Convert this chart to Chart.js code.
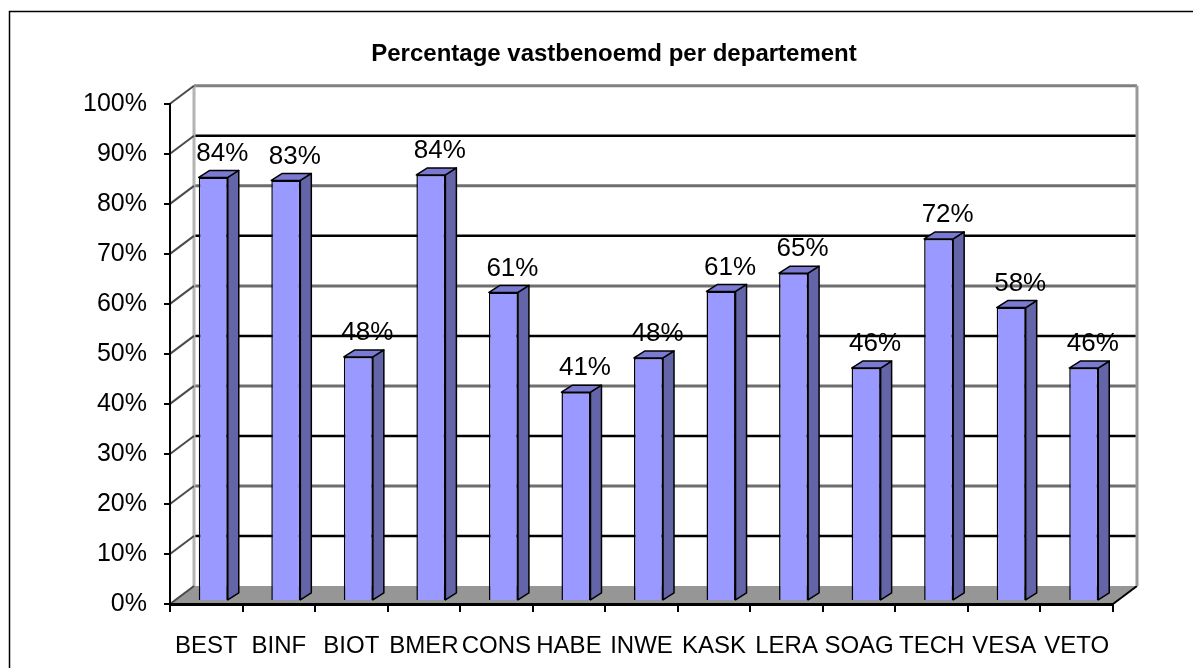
<!DOCTYPE html>
<html><head><meta charset="utf-8">
<script src="https://cdn.jsdelivr.net/npm/chart.js@4"></script>
<style>html,body{margin:0;padding:0;background:#fff;overflow:hidden}</style>
</head><body>
<canvas id="c" width="1193" height="668"></canvas>
<script>
const categories = ['BEST','BINF','BIOT','BMER','CONS','HABE','INWE','KASK','LERA','SOAG','TECH','VESA','VETO'];
const values = [83.8, 83.2, 48.2, 84.3, 61.0, 41.2, 48.0, 61.2, 64.8, 46.0, 71.6, 58.0, 46.0];
const yTickValues = [0,10,20,30,40,50,60,70,80,90,100];
const titleText = 'Percentage vastbenoemd per departement';

const FONT = "'Liberation Sans', Arial, sans-serif";
Chart.defaults.font.family = FONT;
Chart.defaults.color = '#000';

const WALL = {dx: 24, dy: -18};
const BAR_SHIFT = 7;
const BAR_DEPTH = {dx: 11, dy: -7};

const wallPlugin = {
  id: 'wall3d',
  beforeDraw(chart) {
    const ctx = chart.ctx, a = chart.chartArea, y = chart.scales.y;
    ctx.save();
    ctx.strokeStyle = '#000'; ctx.lineWidth = 1.5;
    ctx.strokeRect(9.5, 11.5, 1300, 800);
    const y0 = y.getPixelForValue(0);
    ctx.fillStyle = '#969696';
    ctx.beginPath();
    ctx.moveTo(a.left, y0); ctx.lineTo(a.right, y0);
    ctx.lineTo(a.right + WALL.dx, y0 + WALL.dy); ctx.lineTo(a.left + WALL.dx, y0 + WALL.dy);
    ctx.closePath(); ctx.fill();
    ctx.strokeStyle = '#000'; ctx.lineWidth = 2;
    ctx.beginPath(); ctx.moveTo(a.right, y0); ctx.lineTo(a.right + WALL.dx, y0 + WALL.dy); ctx.stroke();
    yTickValues.forEach(v => {
      if (v === 0) return;
      const py = y.getPixelForValue(v) + WALL.dy;
      ctx.beginPath();
      if (v === 100) { ctx.strokeStyle = '#808080'; ctx.lineWidth = 3; }
      else if (v % 20 === 0) { ctx.strokeStyle = '#6e6e6e'; ctx.lineWidth = 3; }
      else { ctx.strokeStyle = '#000'; ctx.lineWidth = 2.5; }
      ctx.moveTo(a.left + WALL.dx, py); ctx.lineTo(a.right + WALL.dx, py); ctx.stroke();
    });
    ctx.strokeStyle = '#b4b4b4'; ctx.lineWidth = 3;
    ctx.beginPath();
    ctx.moveTo(a.left + WALL.dx, y.getPixelForValue(100) + WALL.dy);
    ctx.lineTo(a.left + WALL.dx, y0 + WALL.dy); ctx.stroke();
    ctx.strokeStyle = '#9a9a9a';
    ctx.beginPath();
    ctx.moveTo(a.right + WALL.dx, y.getPixelForValue(100) + WALL.dy);
    ctx.lineTo(a.right + WALL.dx, y0 + WALL.dy); ctx.stroke();
    ctx.strokeStyle = '#4a4a4a'; ctx.lineWidth = 2;
    yTickValues.forEach(v => {
      const py = y.getPixelForValue(v);
      ctx.beginPath(); ctx.moveTo(a.left, py); ctx.lineTo(a.left + WALL.dx, py + WALL.dy); ctx.stroke();
    });
    ctx.restore();
  },
  beforeDatasetsDraw(chart) {
    chart.ctx.save();
    chart.ctx.translate(BAR_SHIFT, 0);
  },
  afterDatasetsDraw(chart) {
    const ctx = chart.ctx;
    const meta = chart.getDatasetMeta(0);
    ctx.lineJoin = 'round';
    meta.data.forEach((bar, i) => {
      const p = bar.getProps(['x','y','base','width'], true);
      const l = p.x - p.width / 2, r = p.x + p.width / 2, t = p.y, b = p.base;
      ctx.lineWidth = 1.5; ctx.strokeStyle = '#000';
      ctx.fillStyle = '#6464a8';
      ctx.beginPath();
      ctx.moveTo(r, t); ctx.lineTo(r + BAR_DEPTH.dx, t + BAR_DEPTH.dy);
      ctx.lineTo(r + BAR_DEPTH.dx, b + BAR_DEPTH.dy); ctx.lineTo(r, b);
      ctx.closePath(); ctx.fill(); ctx.stroke();
      ctx.fillStyle = '#7a7ad2';
      ctx.beginPath();
      ctx.moveTo(l, t); ctx.lineTo(l + BAR_DEPTH.dx, t + BAR_DEPTH.dy);
      ctx.lineTo(r + BAR_DEPTH.dx, t + BAR_DEPTH.dy); ctx.lineTo(r, t);
      ctx.closePath(); ctx.fill(); ctx.stroke();
      ctx.fillStyle = '#000';
      ctx.font = '26px ' + FONT;
      ctx.textAlign = 'center'; ctx.textBaseline = 'middle';
      ctx.fillText(Math.round(values[i]) + '%', p.x + 9, t - 24);
    });
    ctx.restore();
  }
};

new Chart(document.getElementById('c'), {
  type: 'bar',
  data: {
    labels: categories,
    datasets: [{
      data: values,
      yAxisID: 'yb',
      backgroundColor: '#9999ff',
      borderColor: '#000',
      borderWidth: 1.5,
      barPercentage: 0.5,
      categoryPercentage: 0.8
    }]
  },
  plugins: [wallPlugin],
  options: {
    responsive: false,
    animation: false,
    devicePixelRatio: 1,
    layout: { padding: { left: 40, right: 5, top: 0, bottom: 0 } },
    plugins: {
      legend: { display: false },
      tooltip: { enabled: false },
      title: {
        display: true,
        text: titleText,
        color: '#000',
        font: { size: 24, weight: 'bold', family: FONT },
        padding: { top: 40, bottom: 35 }
      }
    },
    scales: {
      x: {
        type: 'category',
        offset: true,
        grid: { display: true, drawOnChartArea: false, drawTicks: true, tickLength: 8, color: '#000', lineWidth: 2, offset: true },
        border: { display: true, color: '#000', width: 3 },
        ticks: { font: { size: 24 }, color: '#000', padding: 20, maxRotation: 0, autoSkip: false },
        afterFit(s) { s.height = 64; }
      },
      y: {
        min: 0, max: 100,
        ticks: { stepSize: 10, callback: v => v + '%', font: { size: 25 }, color: '#000', padding: 17 },
        grid: { display: true, drawOnChartArea: false, tickLength: 6, color: '#000', lineWidth: 2 },
        border: { display: true, color: '#000', width: 2 },
        afterFit(s) { s.width = 130; }
      },
      yb: {
        display: false,
        min: -0.8, max: 98.4
      },
      yr: {
        position: 'right',
        display: true,
        min: 0, max: 100,
        ticks: { display: false },
        grid: { display: false },
        border: { display: false },
        afterFit(s) { s.width = 75; }
      }
    }
  }
});
</script>
</body></html>
